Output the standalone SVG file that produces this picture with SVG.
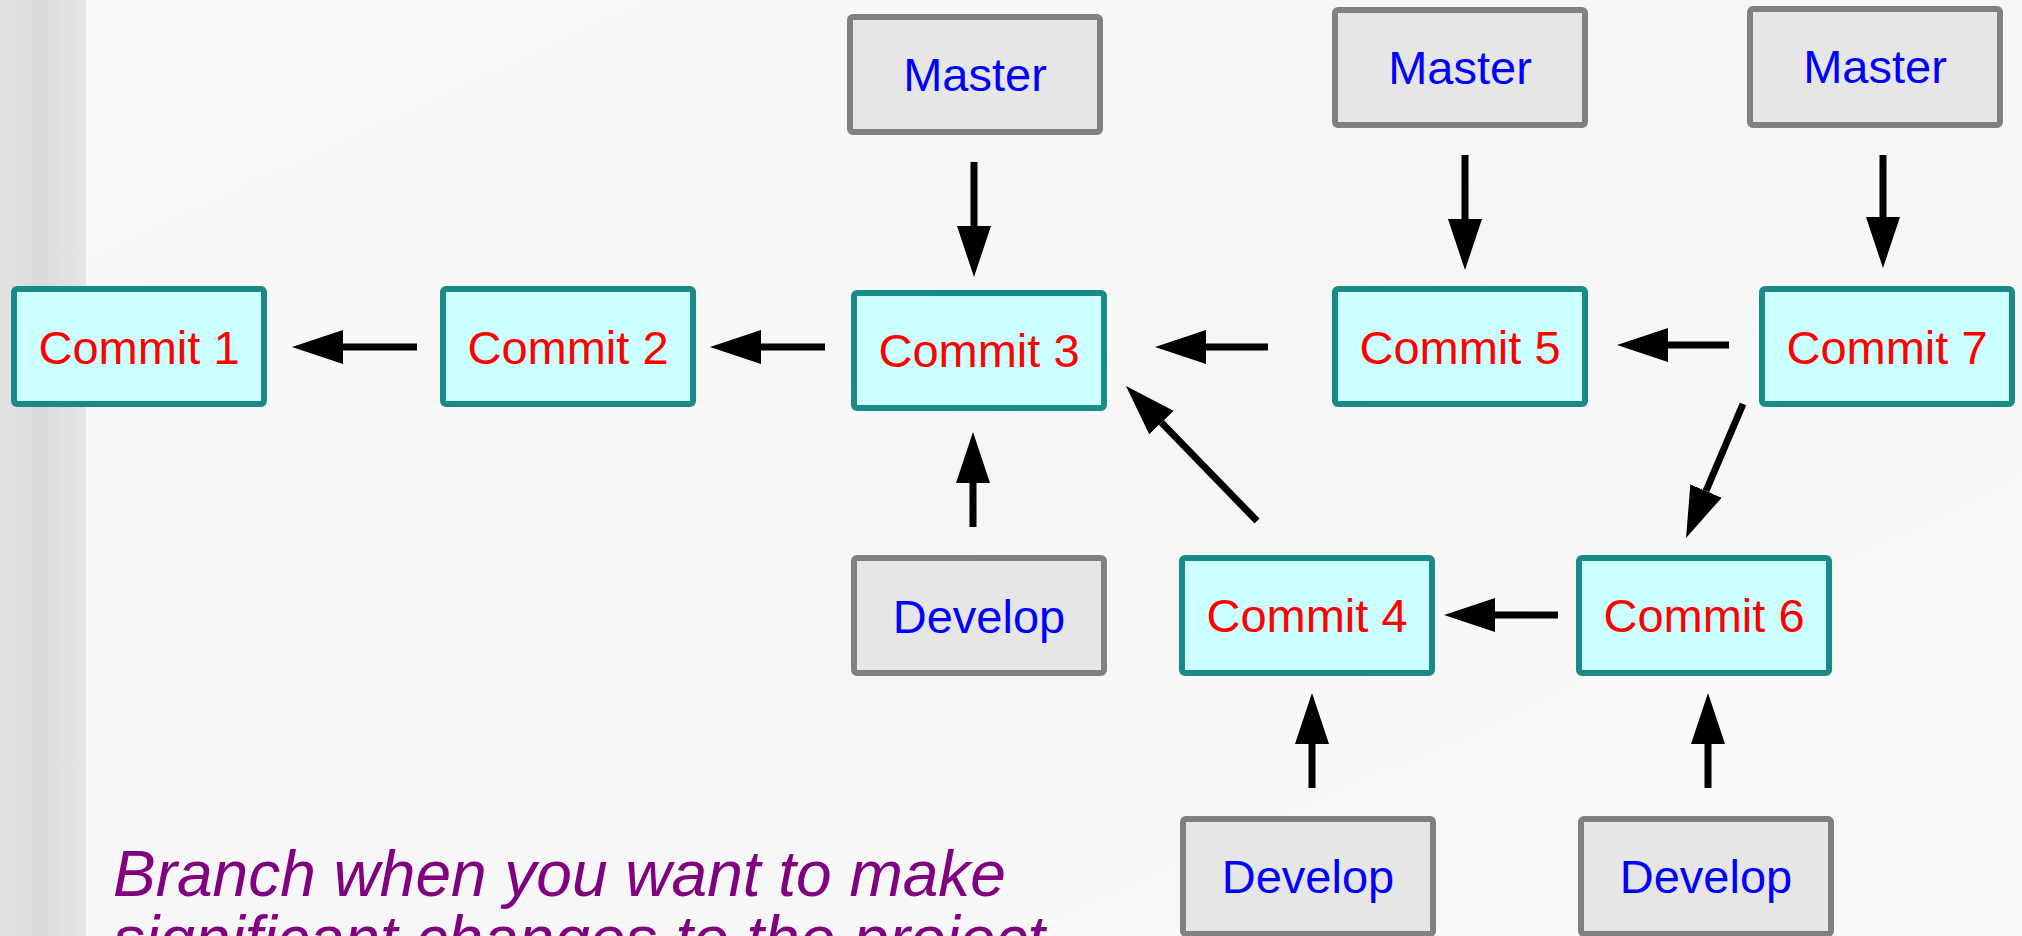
<svg xmlns="http://www.w3.org/2000/svg" width="2022" height="936" viewBox="0 0 2022 936">
<defs>
<linearGradient id="strip" x1="0" y1="0" x2="1" y2="0">
<stop offset="0" stop-color="#e2e2e2"/>
<stop offset="0.5" stop-color="#dadada"/>
<stop offset="1" stop-color="#e6e6e6"/>
</linearGradient>
<linearGradient id="bg" x1="0" y1="0" x2="1" y2="1">
<stop offset="0" stop-color="#f9f9f9"/>
<stop offset="0.5" stop-color="#f6f6f6"/>
<stop offset="1" stop-color="#fafafa"/>
</linearGradient>
<marker id="ah" markerUnits="userSpaceOnUse" markerWidth="52" markerHeight="34" refX="0" refY="17" orient="auto">
<path d="M0,0 L51,17 L0,34 z" fill="#000"/>
</marker>
<style>
.commit rect{fill:#ccffff;stroke:#1a8a87;stroke-width:6}
.ref rect{fill:#e6e6e6;stroke:#808080;stroke-width:6}
.commit text{fill:#ff0000}
.ref text{fill:#0000ff}
text{font-family:"Liberation Sans",Arial,sans-serif;font-size:47px;text-anchor:middle}
.conn line{stroke:#000;stroke-width:7;marker-end:url(#ah)}
.note{fill:#800080;font-style:italic;font-size:64px;text-anchor:start}
</style>
</defs>
<rect x="0" y="0" width="2022" height="936" fill="url(#bg)"/>
<rect x="0" y="0" width="86" height="936" fill="url(#strip)"/>

<g id="commit1" class="commit"><rect x="14" y="289" width="250" height="115" rx="3"/><text x="139" y="364">Commit 1</text></g>
<g id="commit2" class="commit"><rect x="443" y="289" width="250" height="115" rx="3"/><text x="568" y="364">Commit 2</text></g>
<g id="commit3" class="commit"><rect x="854" y="293" width="250" height="115" rx="3"/><text x="979" y="367">Commit 3</text></g>
<g id="commit5" class="commit"><rect x="1335" y="289" width="250" height="115" rx="3"/><text x="1460" y="364">Commit 5</text></g>
<g id="commit7" class="commit"><rect x="1762" y="289" width="250" height="115" rx="3"/><text x="1887" y="364">Commit 7</text></g>
<g id="commit4" class="commit"><rect x="1182" y="558" width="250" height="115" rx="3"/><text x="1307" y="632">Commit 4</text></g>
<g id="commit6" class="commit"><rect x="1579" y="558" width="250" height="115" rx="3"/><text x="1704" y="632">Commit 6</text></g>

<g id="master1" class="ref"><rect x="850" y="17" width="250" height="115" rx="3"/><text x="975" y="91">Master</text></g>
<g id="master2" class="ref"><rect x="1335" y="10" width="250" height="115" rx="3"/><text x="1460" y="84">Master</text></g>
<g id="master3" class="ref"><rect x="1750" y="9" width="250" height="116" rx="3"/><text x="1875" y="83">Master</text></g>
<g id="develop1" class="ref"><rect x="854" y="558" width="250" height="115" rx="3"/><text x="979" y="633">Develop</text></g>
<g id="develop2" class="ref"><rect x="1183" y="819" width="250" height="115" rx="3"/><text x="1308" y="893">Develop</text></g>
<g id="develop3" class="ref"><rect x="1581" y="819" width="250" height="115" rx="3"/><text x="1706" y="893">Develop</text></g>

<g id="connectors" class="conn">
<line x1="417" y1="347" x2="343" y2="347"/>
<line x1="825" y1="347" x2="761" y2="347"/>
<line x1="1268" y1="347" x2="1206" y2="347"/>
<line x1="1729" y1="345" x2="1668" y2="345"/>
<line x1="1558" y1="615" x2="1495" y2="615"/>
<line x1="974" y1="162" x2="974" y2="226"/>
<line x1="1465" y1="155" x2="1465" y2="219"/>
<line x1="1883" y1="155" x2="1883" y2="217"/>
<line x1="973" y1="527" x2="973" y2="483"/>
<line x1="1312" y1="788" x2="1312" y2="744"/>
<line x1="1708" y1="788" x2="1708" y2="744"/>
<line x1="1257" y1="521" x2="1161.5" y2="422.6"/>
<line x1="1743" y1="404" x2="1706" y2="491"/>
</g>

<text class="note" x="113" y="896">Branch when you want to make</text>
<text class="note" x="113" y="961">significant changes to the project</text>
</svg>
